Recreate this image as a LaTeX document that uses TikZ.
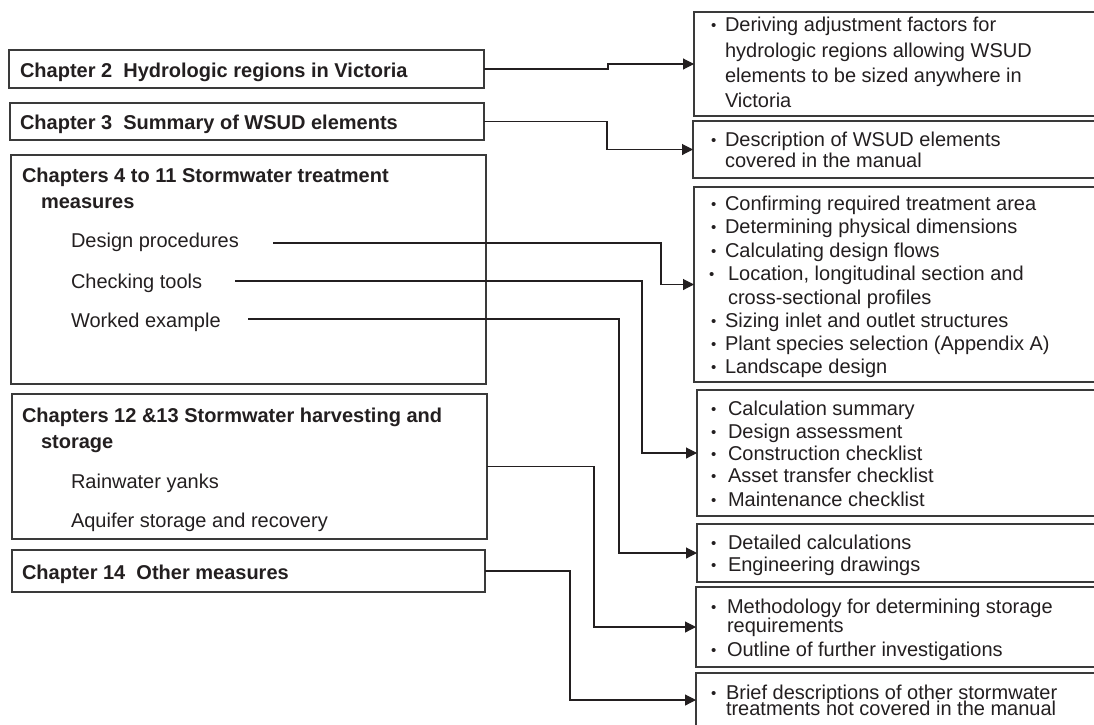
\documentclass[tikz,border=0pt]{standalone}
\usepackage{fontspec}
\setmainfont{Liberation Sans}
\usetikzlibrary{arrows.meta}
\definecolor{ink}{HTML}{231F20}
\definecolor{frame}{HTML}{3A3A3A}
\tikzset{
  box/.style={draw=frame, line width=1.5pt, rectangle, inner sep=0pt, outer sep=0pt, anchor=north west},
  txt/.style={inner sep=0pt, outer sep=0pt, anchor=base west, text=ink, font=\fontsize{20}{24}\selectfont},
  btxt/.style={txt, font=\fontsize{20}{24}\selectfont\bfseries},
  conn/.style={draw=ink, line width=1.1pt, -{Triangle[length=11pt,width=11pt]}},
}
\newcommand\bitem[2]{\makebox[#1][l]{\raisebox{0.5pt}{\fontsize{15}{15}\selectfont •}}#2}
\begin{document}
\begin{tikzpicture}[x=1pt,y=-1pt]
\path[use as bounding box] (0,0) rectangle (1094,724);
\fill[white] (0,0) rectangle (1094,724);
\clip (0,0) rectangle (1094,724);

% left boxes
\node[box, minimum width=475pt, minimum height=38pt] (b1) at (9,50) {};
\node[box, minimum width=474pt, minimum height=37pt] (b2) at (10,103) {};
\node[box, minimum width=475pt, minimum height=229pt] (b3) at (11,155) {};
\node[box, minimum width=475pt, minimum height=145pt] (b4) at (12,394) {};
\node[box, minimum width=473pt, minimum height=42pt] (b5) at (12,550) {};

\node[btxt] (t1) at (20,77) {Chapter 2\ \ Hydrologic regions in Victoria};
\node[btxt] (t2) at (20,129) {Chapter 3\ \ Summary of WSUD elements};
\node[btxt] (t3a) at (22,182) {Chapters 4 to 11 Stormwater treatment};
\node[btxt] (t3b) at (41,208) {measures};
\node[txt] (dp) at (71,247) {Design procedures};
\node[txt] (ct) at (71,288) {Checking tools};
\node[txt] (we) at (71,327) {Worked example};
\node[btxt] (t4a) at (22,422) {Chapters 12 \&13 Stormwater harvesting and};
\node[btxt] (t4b) at (41,448) {storage};
\node[txt] (rw) at (71,488) {Rainwater yanks};
\node[txt] (aq) at (71,527) {Aquifer storage and recovery};
\node[btxt] (t5) at (22,579) {Chapter 14\ \ Other measures};

% right boxes
\node[box, minimum width=420pt, minimum height=104pt] (r1) at (694,12) {};
\node[box, minimum width=420pt, minimum height=57pt] (r2) at (693,121) {};
\node[box, minimum width=420pt, minimum height=195pt] (r3) at (694,187) {};
\node[box, minimum width=420pt, minimum height=126pt] (r4) at (697,390) {};
\node[box, minimum width=420pt, minimum height=58pt] (r5) at (697,524) {};
\node[box, minimum width=420pt, minimum height=80pt] (r6) at (696,587) {};
\node[box, minimum width=420pt, minimum height=54pt] (r7) at (696,673) {};

\node[txt] (r1a) at (711,31) {\bitem{14pt}{Deriving adjustment factors for}};
\node[txt] (r1b) at (725,57) {hydrologic regions allowing WSUD};
\node[txt] (r1c) at (725,82) {elements to be sized anywhere in};
\node[txt] (r1d) at (725,107) {Victoria};

\node[txt] (r2a) at (711,146) {\bitem{14pt}{Description of WSUD elements}};
\node[txt] (r2b) at (725,167) {covered in the manual};

\node[txt] (r3a) at (711,210) {\bitem{14pt}{Confirming required treatment area}};
\node[txt] (r3b) at (711,233) {\bitem{14pt}{Determining physical dimensions}};
\node[txt] (r3c) at (711,257) {\bitem{14pt}{Calculating design flows}};
\node[txt] (r3d) at (709,280) {\bitem{19pt}{Location, longitudinal section and}};
\node[txt] (r3e) at (728,304) {cross-sectional profiles};
\node[txt] (r3f) at (711,327) {\bitem{14pt}{Sizing inlet and outlet structures}};
\node[txt] (r3g) at (711,350) {\bitem{14pt}{Plant species selection (Appendix A)}};
\node[txt] (r3h) at (711,373) {\bitem{14pt}{Landscape design}};

\node[txt] (r4a) at (711,415) {\bitem{17pt}{Calculation summary}};
\node[txt] (r4b) at (711,438) {\bitem{17pt}{Design assessment}};
\node[txt] (r4c) at (711,460) {\bitem{17pt}{Construction checklist}};
\node[txt] (r4d) at (711,482) {\bitem{17pt}{Asset transfer checklist}};
\node[txt] (r4e) at (711,506) {\bitem{17pt}{Maintenance checklist}};

\node[txt] (r5a) at (711,549) {\bitem{17pt}{Detailed calculations}};
\node[txt] (r5b) at (711,571) {\bitem{17pt}{Engineering drawings}};

\node[txt] (r6a) at (711,613) {\bitem{16pt}{Methodology for determining storage}};
\node[txt] (r6b) at (727,632) {requirements};
\node[txt] (r6c) at (711,656) {\bitem{16pt}{Outline of further investigations}};

\node[txt] (r7a) at (711,699) {\bitem{15pt}{Brief descriptions of other stormwater}};
\node[txt] (r7b) at (726,715) {treatments not covered in the manual};

% start points of the item connectors
\coordinate (dpo) at (273,243);
\coordinate (cto) at (235,281);
\coordinate (weo) at (248,319);

% connectors
\draw[conn] (b1.east) -- ++(124,0) |- (r1.west);
\draw[conn] (b2.east) -- ++(123,0) |- (r2.west);
\draw[conn] (dpo) -- ++(388,0) |- (r3.west);
\draw[conn] (cto) -- ++(407,0) |- (r4.west);
\draw[conn] (weo) -- ++(371,0) |- (r5.west);
\draw[conn] (b4.east) -- ++(107,0) |- (r6.west);
\draw[conn] (b5.east) -- ++(85,0) |- (r7.west);
\end{tikzpicture}
\end{document}
